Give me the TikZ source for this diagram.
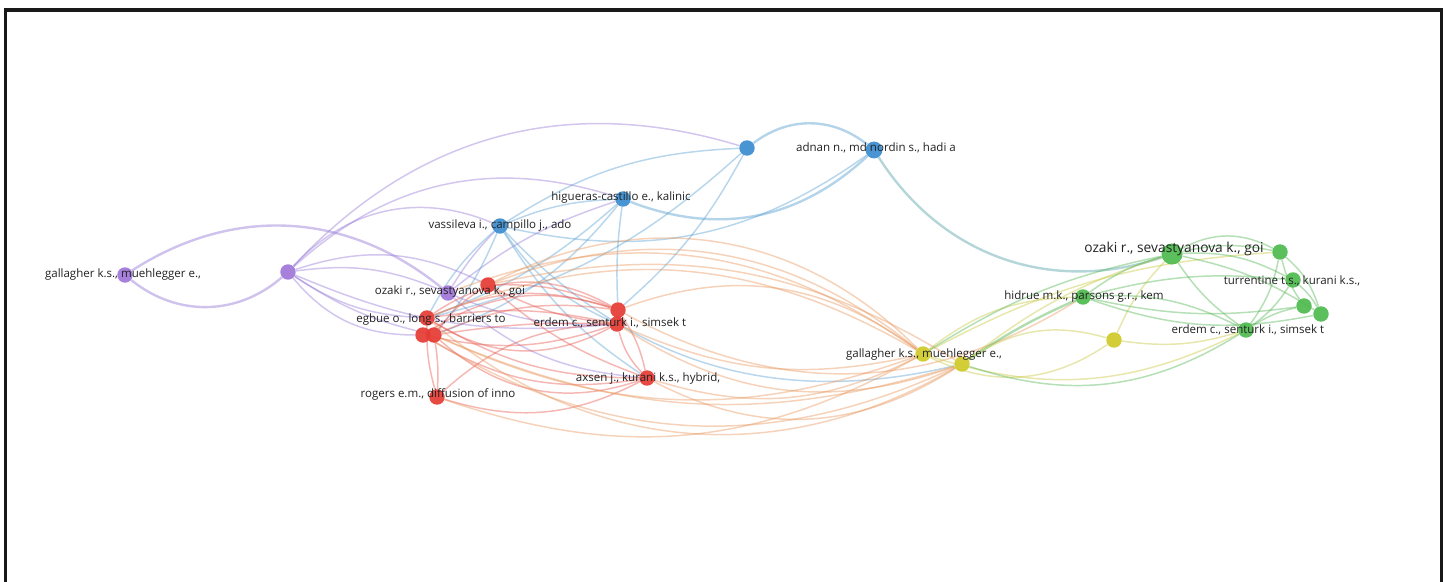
\documentclass[tikz,border=0pt]{standalone}
\usepackage{fontspec}
\newfontfamily\labfont{Open Sans}
\usetikzlibrary{backgrounds}
\definecolor{cP}{RGB}{160,118,218}
\definecolor{cB}{RGB}{58,140,208}
\definecolor{cR}{RGB}{230,58,52}
\definecolor{cY}{RGB}{208,202,40}
\definecolor{cG}{RGB}{78,186,78}
\definecolor{eP}{RGB}{150,120,215}
\definecolor{eB}{RGB}{90,160,210}
\definecolor{eR}{RGB}{232,85,75}
\definecolor{eO}{RGB}{232,150,90}
\definecolor{eY}{RGB}{200,200,60}
\definecolor{eG}{RGB}{80,180,80}
\definecolor{eT}{RGB}{90,165,170}
\definecolor{lbltext}{RGB}{35,35,35}
\tikzset{
  vnode/.style={circle, fill=#1, draw=none, inner sep=0pt, minimum size=11pt, fill opacity=0.92},
  bignode/.style={vnode=#1, minimum size=15pt},
  lbl/.style={inner sep=0pt, text=lbltext, font=\labfont\fontsize{8.2}{9}\selectfont},
  biglbl/.style={lbl, font=\labfont\fontsize{9.8}{11}\selectfont},
  link/.style={draw=#1, line width=1.05pt, draw opacity=0.42},
  heavy/.style={line width=1.7pt, draw opacity=0.45},
  ep/.style={link=eP}, eb/.style={link=eB}, er/.style={link=eR},
  eo/.style={link=eO}, ey/.style={link=eY}, eg/.style={link=eG}, et/.style={link=eT}
}
\begin{document}
\begin{tikzpicture}[x=0.025cm, y=-0.025cm]
\useasboundingbox (0,0) rectangle (1447,582);
\clip (0,0) rectangle (1447,582);

% ---- items (circles) ----
% purple cluster
\node[vnode=cP] (P1) at (125,275) {};
\node[vnode=cP] (P2) at (288,272) {};
\node[vnode=cP] (P3) at (448,293) {};
% blue cluster
\node[vnode=cB] (B1) at (500,226) {};
\node[vnode=cB] (B2) at (623,199) {};
\node[vnode=cB] (B3) at (747,148) {};
\node[vnode=cB, minimum size=12pt] (B4) at (874,150) {};
% red cluster
\node[vnode=cR] (R0) at (488,285) {};
\node[vnode=cR] (Ra) at (427,318) {};
\node[vnode=cR] (Rb) at (423,335) {};
\node[vnode=cR] (Rc) at (434,335) {};
\node[vnode=cR] (R3a) at (618,310) {};
\node[vnode=cR] (R3b) at (617,324) {};
\node[vnode=cR] (R4) at (647,378) {};
\node[vnode=cR] (R5) at (437,397) {};
% yellow cluster
\node[vnode=cY] (Y1) at (923,354) {};
\node[vnode=cY] (Y1b) at (962,364) {};
\node[vnode=cY] (Y2) at (1114,340) {};
% green cluster
\node[bignode=cG] (G1) at (1172,254) {};
\node[vnode=cG] (G2) at (1280,252) {};
\node[vnode=cG] (G3) at (1293,280) {};
\node[vnode=cG] (G4) at (1304,306) {};
\node[vnode=cG] (G5) at (1321,314) {};
\node[vnode=cG] (G6) at (1246,330) {};
\node[vnode=cG] (G7) at (1083,297) {};

% ---- links ----
\begin{scope}[on background layer]
\fill[white] (0,0) rectangle (1447,582);
% purple
\draw[ep, heavy] (P1) to[bend right=40] (P2);
\draw[ep, heavy] (P1) to[bend left=36] (P3);
\draw[ep] (P2) to[bend left=32] (B3);
\draw[ep] (P2) to[bend left=30] (B2);
\draw[ep] (P2) to[bend left=35] (B1);
\draw[ep] (P2) to[bend left=15] (P3);
\draw[ep] (P2) to[bend left=22] (R0);
\draw[ep] (P2) to[bend right=15] (Ra);
\draw[ep] (P2) to[bend right=25] (Rb);
\draw[ep] (P2) to[bend right=10] (Rc);
\draw[ep] (P2) to[bend right=14] (R3b);
\draw[ep] (P3) to[bend left=10] (B2);
\draw[ep] (P3) to[bend right=12] (R3b);
\draw[ep] (P3) to[bend left=6] (B1);
\draw[ep] (P3) to[bend right=18] (R4);
% blue
\draw[eb, heavy] (B3) to[bend left=38] (B4);
\draw[eb, heavy] (B2) to[bend right=32] (B4);
\draw[eb] (B1) to[bend right=24] (B4);
\draw[et, heavy] (B4) to[bend right=38] (G1);
\draw[eb] (B1) to[bend left=15] (B3);
\draw[eb] (B1) to[bend left=10] (B2);
\draw[eb] (B1) to[bend right=10] (Ra);
\draw[eb] (B1) to[bend left=8] (Rc);
\draw[eb] (B1) to[bend right=15] (R3b);
\draw[eb] (B1) to[bend right=12] (R4);
\draw[eb] (B1) to[bend right=30] (Y1b);
\draw[eb] (B2) to[bend left=10] (Ra);
\draw[eb] (B2) to[bend right=5] (R3a);
\draw[eb] (B2) to[bend left=15] (Rc);
\draw[eb] (B3) to[bend left=10] (R3a);
\draw[eb] (B3) to[bend left=14] (Ra);
% red
\draw[er] (Ra) to[bend left=20] (R3a);
\draw[er] (Ra) to[bend left=32] (R3a);
\draw[er] (Rb) to[bend left=25] (R3a);
\draw[er] (Rc) to[bend left=15] (R3a);
\draw[er] (Rb) to[bend right=15] (R3b);
\draw[er] (Rc) to[bend left=5] (R3b);
\draw[er] (Ra) to[bend left=10] (R3b);
\draw[er] (R0) to[bend left=12] (R3a);
\draw[er] (R0) to[bend right=10] (R3b);
\draw[er] (Ra) to[bend right=30] (R3b);
\draw[er] (Ra) to[bend right=15] (R4);
\draw[er] (Rc) to[bend right=30] (R4);
\draw[er] (Rb) to[bend right=20] (R4);
\draw[er] (R0) to[bend right=10] (R4);
\draw[er] (Ra) to[bend right=8] (R5);
\draw[er] (Rc) to[bend left=6] (R5);
\draw[er] (R5) to[bend left=20] (R3b);
\draw[er] (R5) to[bend right=22] (R4);
\draw[er] (R3a) to[bend left=10] (R4);
\draw[er] (R3b) to[bend right=14] (R4);
\draw[er] (R0) to[bend right=10] (Rc);
% red to yellow
\draw[eo] (R0) to[bend left=30] (Y1);
\draw[eo] (R0) to[bend left=36] (Y1);
\draw[eo] (Ra) to[bend left=26] (Y1);
\draw[eo] (R0) to[bend left=22] (Y1b);
\draw[eo] (P3) to[bend left=28] (Y1);
\draw[eo] (R3a) to[bend left=28] (Y1);
\draw[eo] (R3b) to[bend right=26] (Y1b);
\draw[eo] (R3b) to[bend right=18] (Y1);
\draw[eo] (R4) to[bend right=22] (Y1);
\draw[eo] (R4) to[bend right=30] (Y1b);
\draw[eo] (R5) to[bend right=24] (Y1);
\draw[eo] (Rb) to[bend right=28] (Y1b);
\draw[eo] (Ra) to[bend right=35] (Y1b);
\draw[eo] (Rc) to[bend right=22] (Y1);
\draw[eo] (Rc) to[bend right=20] (Y1b);
\draw[eo] (R3a) to[bend right=30] (G7);
% yellow
\draw[ey] (Y1) to[bend left=18] (G7);
\draw[ey] (Y1b) to[bend left=10] (G1);
\draw[eg, heavy] (Y1b) to[bend left=5] (G7);
\draw[ey] (Y1) to[bend right=22] (G6);
\draw[ey] (Y2) to[bend left=10] (G1);
\draw[ey] (Y1) to[bend right=30] (Y2);
\draw[ey] (Y1b) to[bend left=25] (Y2);
\draw[ey] (Y1) to[bend left=12] (G2);
\draw[ey] (Y2) to[bend right=12] (G6);
\draw[eg] (G1) to[bend right=10] (Y1);
\draw[eg] (G6) to[bend left=25] (Y1b);
% green
\draw[eg] (G1) to[bend left=28] (G2);
\draw[eg] (G1) to[bend left=12] (G2);
\draw[eg] (G1) to[bend left=15] (G3);
\draw[eg] (G1) to[bend left=10] (G5);
\draw[eg] (G1) to[bend right=10] (G6);
\draw[eg] (G1) to[bend right=10] (G7);
\draw[eg] (G7) to[bend left=15] (G6);
\draw[eg] (G7) to[bend left=10] (G3);
\draw[eg] (G7) to[bend right=10] (G4);
\draw[eg] (G7) to[bend right=15] (G5);
\draw[eg] (G6) to[bend left=10] (G4);
\draw[eg] (G6) to[bend right=10] (G3);
\draw[eg] (G2) to[bend left=15] (G5);
\draw[eg] (G2) to[bend right=10] (G4);
\draw[eg] (G3) to[bend left=10] (G5);
\draw[eg] (G6) to[bend right=12] (G2);
\end{scope}

% ---- labels ----
\node[lbl] (P1l) at (123,275) {gallagher k.s., muehlegger e.,};
\node[lbl] (P3l) at (450,292) {ozaki r., sevastyanova k., goi};
\node[lbl] (B1l) at (500,226) {vassileva i., campillo j., ado};
\node[lbl] (B2l) at (621,198) {higueras-castillo e., kalinic};
\node[lbl] (B4l) at (876,148) {adnan n., md nordin s., hadi a};
\node[lbl] (Ral) at (431,320) {egbue o., long s., barriers to};
\node[lbl] (R3l) at (610,323) {erdem c., senturk i., simsek t};
\node[lbl] (R4l) at (648,379) {axsen j., kurani k.s., hybrid,};
\node[lbl] (R5l) at (438,394) {rogers e.m., diffusion of inno};
\node[lbl] (Y1l) at (924,355) {gallagher k.s., muehlegger e.,};
\node[biglbl] (G1l) at (1174,249) {ozaki r., sevastyanova k., goi};
\node[lbl] (G3l) at (1292,281) {turrentine t.s., kurani k.s.,};
\node[lbl] (G7l) at (1084,297) {hidrue m.k., parsons g.r., kem};
\node[lbl] (G6l) at (1248,330) {erdem c., senturk i., simsek t};

% ---- frame ----
\draw[line width=2.2pt, black!90] (5.5,10) rectangle (1441.5,600);
\end{tikzpicture}
\end{document}
